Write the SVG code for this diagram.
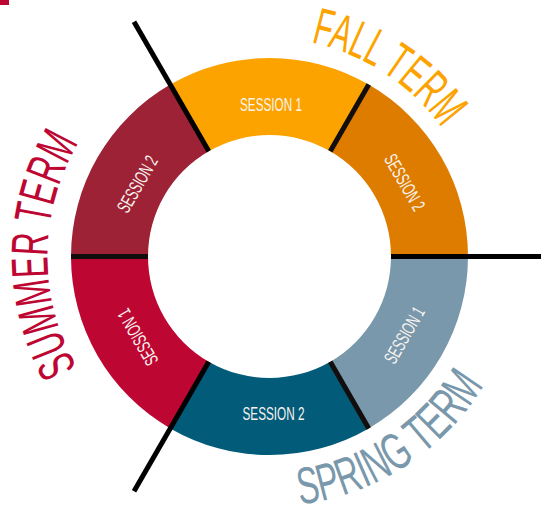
<svg xmlns="http://www.w3.org/2000/svg" xmlns:xlink="http://www.w3.org/1999/xlink" width="549" height="512" viewBox="0 0 549 512">
  <style>
    .sess { font-family: "Liberation Sans Narrow", "Liberation Sans", Arial, sans-serif; font-size: 19px; fill: #f7f3ee; text-anchor: middle; }
    .term { font-family: "Liberation Sans Narrow", "Liberation Sans", Arial, sans-serif; font-size: 52px; }
    .div { stroke: #120e0e; stroke-width: 5; stroke-linecap: butt; }
    .ext { stroke: #000; }
  </style>
  <defs>
    <path id="fallPath" d="M 311.1,42.5 A 218 218 0 0 1 449.3,372.5"/>
    <path id="springPath" d="M 300,504.6 A 250 250 0 0 0 504.4,342"/>
    <path id="summerPath" d="M 77.2,367.5 A 222 222 0 0 1 112.5,99.5"/>
  </defs>
  <rect x="0" y="0" width="9" height="5" fill="#BE0633"/>

  <g id="fall-session-1">
    <path d="M 368.75,84.6 A 198.5 198.5 0 0 0 170.25,84.6 L 208.75,151.28 A 121.5 121.5 0 0 1 330.25,151.28 Z" fill="#FCA300"/>
    <text class="sess" transform="translate(271,104)" y="7" textLength="62" lengthAdjust="spacingAndGlyphs">SESSION 1</text>
  </g>
  <g id="fall-session-2">
    <path d="M 468,256.5 A 198.5 198.5 0 0 0 368.75,84.6 L 330.25,151.28 A 121.5 121.5 0 0 1 391,256.5 Z" fill="#DE7C00"/>
    <text class="sess" transform="translate(405,182) rotate(60)" y="7" textLength="62" lengthAdjust="spacingAndGlyphs">SESSION 2</text>
  </g>
  <g id="spring-session-1">
    <path d="M 368.75,428.4 A 198.5 198.5 0 0 0 468,256.5 L 391,256.5 A 121.5 121.5 0 0 1 330.25,361.72 Z" fill="#7A98AB"/>
    <text class="sess" transform="translate(404,335) rotate(-60)" y="7" textLength="62" lengthAdjust="spacingAndGlyphs">SESSION 1</text>
  </g>
  <g id="spring-session-2">
    <path d="M 170.25,428.4 A 198.5 198.5 0 0 0 368.75,428.4 L 330.25,361.72 A 121.5 121.5 0 0 1 208.75,361.72 Z" fill="#025B79"/>
    <text class="sess" transform="translate(273.5,413)" y="7" textLength="62" lengthAdjust="spacingAndGlyphs">SESSION 2</text>
  </g>
  <g id="summer-session-1">
    <path d="M 71,256.5 A 198.5 198.5 0 0 0 170.25,428.4 L 208.75,361.72 A 121.5 121.5 0 0 1 148,256.5 Z" fill="#BE0633"/>
    <text class="sess" transform="translate(137.5,337.5) rotate(-120)" y="7" textLength="62" lengthAdjust="spacingAndGlyphs">SESSION 1</text>
  </g>
  <g id="summer-session-2">
    <path d="M 170.25,84.6 A 198.5 198.5 0 0 0 71,256.5 L 148,256.5 A 121.5 121.5 0 0 1 208.75,151.28 Z" fill="#9E2236"/>
    <text class="sess" transform="translate(137,184) rotate(-60)" y="7" textLength="62" lengthAdjust="spacingAndGlyphs">SESSION 2</text>
  </g>

  <g id="fall-term">
    <text class="term" fill="#FCA300"><textPath xlink:href="#fallPath" href="#fallPath" textLength="160" lengthAdjust="spacingAndGlyphs">FALL TERM</textPath></text>
  </g>
  <g id="spring-term">
    <text class="term" fill="#7A98AB" font-size="50"><textPath xlink:href="#springPath" href="#springPath" textLength="227" lengthAdjust="spacingAndGlyphs">SPRING TERM</textPath></text>
  </g>
  <g id="summer-term">
    <text class="term" fill="#BE0633"><textPath xlink:href="#summerPath" href="#summerPath" textLength="236" lengthAdjust="spacingAndGlyphs">SUMMER TERM</textPath></text>
  </g>

  <g id="connectors">
    <line class="div" x1="330.25" y1="151.28" x2="368.75" y2="84.6"/>
    <line class="div" x1="148" y1="256.5" x2="71" y2="256.5"/>
    <line class="div" x1="330.25" y1="361.72" x2="368.75" y2="428.4"/>
    <line class="div ext" x1="391" y1="256.5" x2="541" y2="256.5"/>
    <line class="div ext" x1="208.75" y1="151.28" x2="134" y2="21.8"/>
    <line class="div ext" x1="208.75" y1="361.72" x2="134" y2="491.2"/>
  </g>
</svg>
